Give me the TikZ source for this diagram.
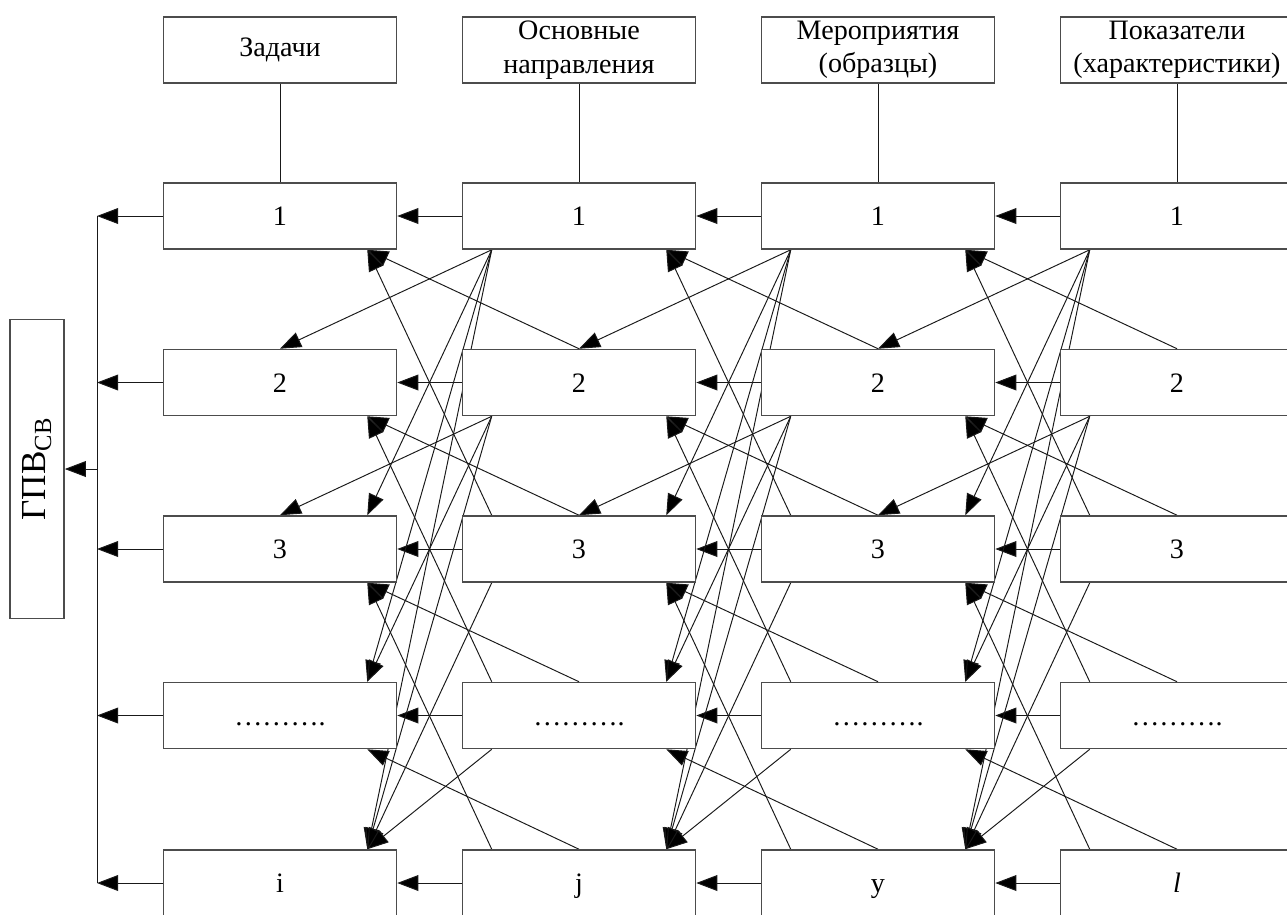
\documentclass[tikz,border=0pt]{standalone}
\usepackage{fontspec}
\setmainfont{Liberation Serif}
\usepackage{tikz}
\usetikzlibrary{arrows.meta, backgrounds}

\begin{document}
\begin{tikzpicture}
    [
      x=0.02cm, y=-0.02cm,
      Cell/.style={rectangle, draw=black!70, fill=white, line width=0.9pt, minimum width=4.66cm, minimum height=1.32cm, inner sep=0pt, text height=10.9pt, text depth=0pt, font=\fontsize{16}{19}\selectfont},
      Head/.style={rectangle, draw=black!70, fill=white, line width=0.9pt, minimum width=4.66cm, minimum height=1.32cm, inner sep=0pt, align=center, font=\fontsize{16}{19}\selectfont},
      Side/.style={rectangle, draw=black!70, fill=white, line width=0.9pt, minimum width=5.98cm, minimum height=1.08cm, inner sep=0pt, rotate=90, font=\fontsize{20}{24}\selectfont},
      Line/.style={draw=black!90, line width=0.55pt},
      Arr/.style={draw=black!90, line width=0.55pt, -{Triangle[length=12pt, width=9pt, fill=black]}},
    ]
    \useasboundingbox (0, 0) rectangle (1287, 914);

    % Nodes
    \node[Head] (zad) at (280, 50) {Задачи};
    \node[Head] (nap) at (579, 50) {Основные\\направления};
    \node[Head] (mer) at (878, 50) {Мероприятия\\(образцы)};
    \node[Head] (pok) at (1177, 50) {Показатели\\(характеристики)};

    \node[Cell] (z1) at (280, 216) {1};
    \node[Cell] (z2) at (280, 382.5) {2};
    \node[Cell] (z3) at (280, 549) {3};
    \node[Cell] (z4) at (280, 715.5) {……….};
    \node[Cell] (z5) at (280, 883) {i};

    \node[Cell] (n1) at (579, 216) {1};
    \node[Cell] (n2) at (579, 382.5) {2};
    \node[Cell] (n3) at (579, 549) {3};
    \node[Cell] (n4) at (579, 715.5) {……….};
    \node[Cell] (n5) at (579, 883) {j};

    \node[Cell] (m1) at (878, 216) {1};
    \node[Cell] (m2) at (878, 382.5) {2};
    \node[Cell] (m3) at (878, 549) {3};
    \node[Cell] (m4) at (878, 715.5) {……….};
    \node[Cell] (m5) at (878, 883) {y};

    \node[Cell] (p1) at (1177, 216) {1};
    \node[Cell] (p2) at (1177, 382.5) {2};
    \node[Cell] (p3) at (1177, 549) {3};
    \node[Cell] (p4) at (1177, 715.5) {……….};
    \node[Cell] (p5) at (1177, 883) {\textit{l}};

    \node[Side] (gpv) at (37, 469) {ГПВ\textsubscript{СВ}};

    \coordinate (bus1) at (97, 216);
    \coordinate (bus2) at (97, 382.5);
    \coordinate (bus3) at (97, 549);
    \coordinate (bus4) at (97, 715.5);
    \coordinate (bus5) at (97, 883);
    \coordinate (busg) at (97, 469);

    % Lines
    \begin{scope}[on background layer]
      \path[Line] (zad) -- (z1);
      \path[Line] (nap) -- (n1);
      \path[Line] (mer) -- (m1);
      \path[Line] (pok) -- (p1);

      \path[Line] (bus1) -- (bus5);
      \path[Arr] (busg) -- (gpv);
      \path[Arr] (z1) -- (bus1);
      \path[Arr] (z2) -- (bus2);
      \path[Arr] (z3) -- (bus3);
      \path[Arr] (z4) -- (bus4);
      \path[Arr] (z5) -- (bus5);

      % направления -> задачи
      \path[Arr] (n1) -- (z1);
      \path[Arr] (n2) -- (z2);
      \path[Arr] (n3) -- (z3);
      \path[Arr] (n4) -- (z4);
      \path[Arr] (n5) -- (z5);
      \path[Arr] ([xshift=0.6cm]n1.south west) -- (z2.north);
      \path[Arr] ([xshift=0.6cm]n1.south west) -- ([xshift=-0.6cm]z3.north east);
      \path[Arr] ([xshift=0.6cm]n1.south west) -- ([xshift=-0.6cm]z4.north east);
      \path[Arr] ([xshift=0.6cm]n1.south west) -- ([xshift=-0.6cm]z5.north east);
      \path[Arr] ([xshift=0.6cm]n2.south west) -- (z3.north);
      \path[Arr] ([xshift=0.6cm]n2.south west) -- ([xshift=-0.6cm]z4.north east);
      \path[Arr] ([xshift=0.6cm]n2.south west) -- ([xshift=-0.6cm]z5.north east);
      \path[Arr] ([xshift=0.6cm]n3.south west) -- ([xshift=-0.6cm]z5.north east);
      \path[Arr] ([xshift=0.6cm]n4.south west) -- ([xshift=-0.6cm]z5.north east);
      \path[Arr] (n2.north) -- ([xshift=-0.6cm]z1.south east);
      \path[Arr] ([xshift=0.6cm]n3.north west) -- ([xshift=-0.6cm]z1.south east);
      \path[Arr] (n3.north) -- ([xshift=-0.6cm]z2.south east);
      \path[Arr] ([xshift=0.6cm]n4.north west) -- ([xshift=-0.6cm]z2.south east);
      \path[Arr] (n4.north) -- ([xshift=-0.6cm]z3.south east);
      \path[Arr] ([xshift=0.6cm]n5.north west) -- ([xshift=-0.6cm]z3.south east);
      \path[Arr] (n5.north) -- ([xshift=-0.6cm]z4.south east);

      % мероприятия -> направления
      \path[Arr] (m1) -- (n1);
      \path[Arr] (m2) -- (n2);
      \path[Arr] (m3) -- (n3);
      \path[Arr] (m4) -- (n4);
      \path[Arr] (m5) -- (n5);
      \path[Arr] ([xshift=0.6cm]m1.south west) -- (n2.north);
      \path[Arr] ([xshift=0.6cm]m1.south west) -- ([xshift=-0.6cm]n3.north east);
      \path[Arr] ([xshift=0.6cm]m1.south west) -- ([xshift=-0.6cm]n4.north east);
      \path[Arr] ([xshift=0.6cm]m1.south west) -- ([xshift=-0.6cm]n5.north east);
      \path[Arr] ([xshift=0.6cm]m2.south west) -- (n3.north);
      \path[Arr] ([xshift=0.6cm]m2.south west) -- ([xshift=-0.6cm]n4.north east);
      \path[Arr] ([xshift=0.6cm]m2.south west) -- ([xshift=-0.6cm]n5.north east);
      \path[Arr] ([xshift=0.6cm]m3.south west) -- ([xshift=-0.6cm]n5.north east);
      \path[Arr] ([xshift=0.6cm]m4.south west) -- ([xshift=-0.6cm]n5.north east);
      \path[Arr] (m2.north) -- ([xshift=-0.6cm]n1.south east);
      \path[Arr] ([xshift=0.6cm]m3.north west) -- ([xshift=-0.6cm]n1.south east);
      \path[Arr] (m3.north) -- ([xshift=-0.6cm]n2.south east);
      \path[Arr] ([xshift=0.6cm]m4.north west) -- ([xshift=-0.6cm]n2.south east);
      \path[Arr] (m4.north) -- ([xshift=-0.6cm]n3.south east);
      \path[Arr] ([xshift=0.6cm]m5.north west) -- ([xshift=-0.6cm]n3.south east);
      \path[Arr] (m5.north) -- ([xshift=-0.6cm]n4.south east);

      % показатели -> мероприятия
      \path[Arr] (p1) -- (m1);
      \path[Arr] (p2) -- (m2);
      \path[Arr] (p3) -- (m3);
      \path[Arr] (p4) -- (m4);
      \path[Arr] (p5) -- (m5);
      \path[Arr] ([xshift=0.6cm]p1.south west) -- (m2.north);
      \path[Arr] ([xshift=0.6cm]p1.south west) -- ([xshift=-0.6cm]m3.north east);
      \path[Arr] ([xshift=0.6cm]p1.south west) -- ([xshift=-0.6cm]m4.north east);
      \path[Arr] ([xshift=0.6cm]p1.south west) -- ([xshift=-0.6cm]m5.north east);
      \path[Arr] ([xshift=0.6cm]p2.south west) -- (m3.north);
      \path[Arr] ([xshift=0.6cm]p2.south west) -- ([xshift=-0.6cm]m4.north east);
      \path[Arr] ([xshift=0.6cm]p2.south west) -- ([xshift=-0.6cm]m5.north east);
      \path[Arr] ([xshift=0.6cm]p3.south west) -- ([xshift=-0.6cm]m5.north east);
      \path[Arr] ([xshift=0.6cm]p4.south west) -- ([xshift=-0.6cm]m5.north east);
      \path[Arr] (p2.north) -- ([xshift=-0.6cm]m1.south east);
      \path[Arr] ([xshift=0.6cm]p3.north west) -- ([xshift=-0.6cm]m1.south east);
      \path[Arr] (p3.north) -- ([xshift=-0.6cm]m2.south east);
      \path[Arr] ([xshift=0.6cm]p4.north west) -- ([xshift=-0.6cm]m2.south east);
      \path[Arr] (p4.north) -- ([xshift=-0.6cm]m3.south east);
      \path[Arr] ([xshift=0.6cm]p5.north west) -- ([xshift=-0.6cm]m3.south east);
      \path[Arr] (p5.north) -- ([xshift=-0.6cm]m4.south east);
    \end{scope}

  \end{tikzpicture}
\end{document}
